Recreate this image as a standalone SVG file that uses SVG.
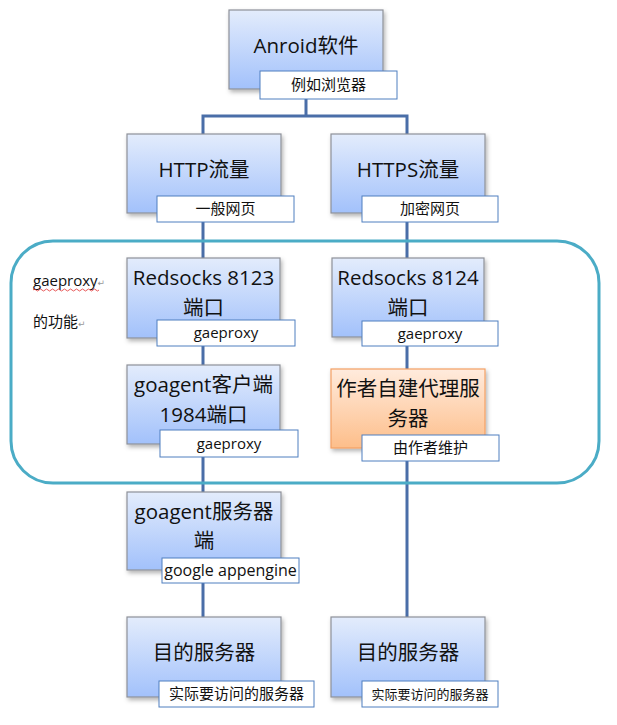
<svg xmlns="http://www.w3.org/2000/svg" width="617" height="725" viewBox="0 0 617 725">
<defs>
<linearGradient id="gBlue" x1="0" y1="0" x2="0" y2="1">
<stop offset="0" stop-color="#E3ECFC"/>
<stop offset="1" stop-color="#A2C1FB"/>
</linearGradient>
<linearGradient id="gOrange" x1="0" y1="0" x2="0" y2="1">
<stop offset="0" stop-color="#FFEBDD"/>
<stop offset="1" stop-color="#FDBE8A"/>
</linearGradient>
<filter id="sh" x="-10%" y="-10%" width="125%" height="130%">
<feDropShadow dx="1.5" dy="2.5" stdDeviation="2" flood-color="#000" flood-opacity="0.3"/>
</filter>
<style>
.box{fill:url(#gBlue);stroke:#8E9198;stroke-width:1.2;filter:url(#sh)}
.obox{fill:url(#gOrange);stroke:#F4A064;stroke-width:1.2;filter:url(#sh)}
.lab{fill:#fff;stroke:#4F7FBF;stroke-width:1}
.t{font-family:"Open Sans","Noto Sans CJK SC",sans-serif;font-size:20.5px;fill:#111;text-anchor:middle}
.s{font-family:"Open Sans","Noto Sans CJK SC",sans-serif;font-size:15px;fill:#111;text-anchor:middle}
.n{font-family:"Open Sans","Noto Sans CJK SC",sans-serif;font-size:15px;fill:#111}
.rm{font-family:"DejaVu Sans",sans-serif;font-size:9px;fill:#999}
.c{fill:none;stroke:#4A6EA8;stroke-width:3}
</style>
</defs>
<rect width="617" height="725" fill="#fff"/>

<g id="connectors">
<path class="c" d="M306,89 V116 M203,116 H407 M203,114.5 V617 M407,114.5 V617"/>
</g>

<g id="container">
<rect x="11" y="241" width="588" height="242" rx="42" ry="42" fill="none" stroke="#4BACC6" stroke-width="3"/>
<text class="n" x="33" y="286">gaeproxy<tspan class="rm">↵</tspan></text>
<path d="M33,290 q1.5,-2 3,0 t3,0 t3,0 t3,0 t3,0 t3,0 t3,0 t3,0 t3,0 t3,0 t3,0 t3,0 t3,0 t3,0 t3,0 t3,0 t3,0 t3,0 t3,0 t3,0 t3,0 t3,0" fill="none" stroke="#E03030" stroke-width="0.8"/>
<text class="n" x="33" y="327">的功能<tspan class="rm">↵</tspan></text>
</g>

<g id="android">
<rect class="box" x="229" y="10" width="154" height="79"/>
<text class="t" x="306" y="53">Anroid软件</text>
<rect class="lab" x="260" y="71" width="137" height="28"/>
<text class="s" x="328.5" y="90">例如浏览器</text>
</g>

<g id="http">
<rect class="box" x="127" y="134" width="154" height="79"/>
<text class="t" x="204" y="177">HTTP流量</text>
<rect class="lab" x="157" y="196" width="137" height="26"/>
<text class="s" x="225.5" y="214">一般网页</text>
</g>

<g id="https">
<rect class="box" x="331" y="134" width="154" height="79"/>
<text class="t" x="408" y="177">HTTPS流量</text>
<rect class="lab" x="362" y="196" width="136" height="26"/>
<text class="s" x="430" y="214">加密网页</text>
</g>

<g id="redsocks8123">
<rect class="box" x="127" y="258" width="153" height="80"/>
<text class="t" x="203.5" y="285">Redsocks 8123</text>
<text class="t" x="203.5" y="315">端口</text>
<rect class="lab" x="157" y="320" width="138" height="26"/>
<text class="s" x="226" y="338">gaeproxy</text>
</g>

<g id="redsocks8124">
<rect class="box" x="332" y="258" width="152" height="79"/>
<text class="t" x="408" y="285">Redsocks 8124</text>
<text class="t" x="408" y="315">端口</text>
<rect class="lab" x="362" y="321" width="136" height="25"/>
<text class="s" x="430" y="339">gaeproxy</text>
</g>

<g id="goagent-client">
<rect class="box" x="127" y="365" width="153" height="79"/>
<text class="t" x="203.5" y="392">goagent客户端</text>
<text class="t" x="203.5" y="422">1984端口</text>
<rect class="lab" x="160" y="430" width="138" height="27"/>
<text class="s" x="229" y="449">gaeproxy</text>
</g>

<g id="author-proxy">
<rect class="obox" x="331" y="369" width="154" height="79"/>
<text class="t" x="408" y="396">作者自建代理服</text>
<text class="t" x="408" y="426">务器</text>
<rect class="lab" x="362" y="435" width="137" height="26"/>
<text class="s" x="430.5" y="453">由作者维护</text>
</g>

<g id="goagent-server">
<rect class="box" x="127" y="492" width="154" height="78"/>
<text class="t" x="204" y="519">goagent服务器</text>
<text class="t" x="204" y="548">端</text>
<rect class="lab" x="162" y="558" width="137" height="25"/>
<text class="s" x="230.5" y="576" style="font-size:16px">google appengine</text>
</g>

<g id="dest-left">
<rect class="box" x="127" y="617" width="154" height="80"/>
<text class="t" x="204" y="660">目的服务器</text>
<rect class="lab" x="159" y="681" width="155" height="26"/>
<text class="s" x="236.5" y="699">实际要访问的服务器</text>
</g>

<g id="dest-right">
<rect class="box" x="331" y="617" width="154" height="80"/>
<text class="t" x="408" y="660">目的服务器</text>
<rect class="lab" x="362" y="681" width="136" height="26"/>
<text class="s" x="430" y="699" style="font-size:13px">实际要访问的服务器</text>
</g>
</svg>
